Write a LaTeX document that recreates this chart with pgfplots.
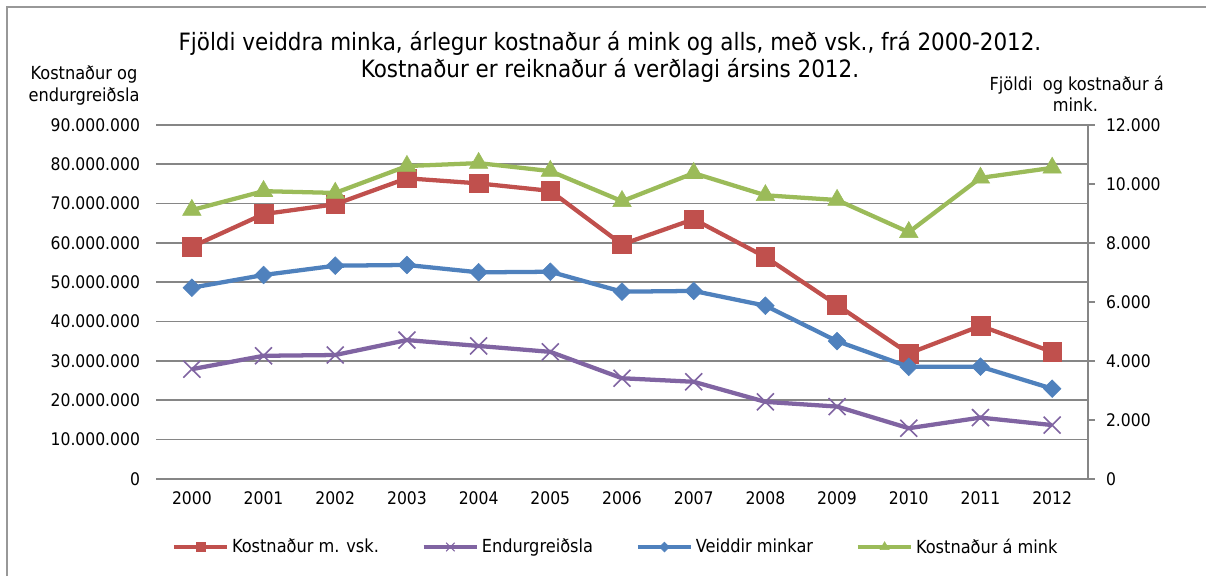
\documentclass[border=0pt]{standalone}
\usepackage{pgfplots}
\pgfplotsset{compat=1.18}
\usepackage{fontspec}
\setmainfont{DejaVu Sans Condensed}

\definecolor{cred}{RGB}{192,80,77}
\definecolor{cpur}{RGB}{128,100,162}
\definecolor{cblue}{RGB}{79,129,189}
\definecolor{cgreen}{RGB}{155,187,89}
\definecolor{cgrid}{RGB}{134,134,134}

\pgfplotsset{
  mybase/.style={
    scale only axis, width=699pt, height=265.7pt,
    at={(117pt,72.75pt)}, anchor=south west,
    xmin=-0.5, xmax=12.5,
    scaled y ticks=false,
    tick label style={font=\fontsize{13}{16}\selectfont},
    /pgf/number format/.cd, fixed, precision=0, 1000 sep={.}, assume math mode=true,
  },
  redS/.style={cred, line width=3.2pt, mark=square*, mark options={line width=0.4pt, solid}},
  purS/.style={cpur, line width=3.2pt, mark=x, mark options={line width=1.2pt, solid}},
  bluS/.style={cblue, line width=3.2pt, mark=square*, mark options={rotate=45, line width=0.4pt, solid}},
  grnS/.style={cgreen, line width=3.2pt, mark=triangle*, mark options={line width=0.4pt, solid}},
}

\begin{document}
\begin{tikzpicture}
\useasboundingbox (0pt,0pt) rectangle (904.5pt,432pt);
\fill[white] (0pt,0pt) rectangle (904.5pt,432pt);
\draw[cgrid!85, line width=1.5pt] (5.25pt,0pt) -- (5.25pt,426.75pt) -- (904.5pt,426.75pt);

\begin{axis}[mybase,
  ymin=0, ymax=90000000, ytick={0,10000000,...,90000000},
  axis lines*=left,
  y axis line style={draw=none},
  x axis line style={cgrid, line width=1.2pt},
  xtick={0,...,12},
  xticklabels={2000,2001,2002,2003,2004,2005,2006,2007,2008,2009,2010,2011,2012},
  xtick style={draw=none}, ytick style={draw=none},
  ymajorgrids, grid style={cgrid, line width=1.2pt},
  yticklabel style={xshift=-8.5pt},
  xticklabel style={yshift=-6pt},
]
\addplot[redS, mark size=7pt] coordinates {
(0,59000000) (1,67300000) (2,69800000) (3,76400000) (4,75100000) (5,73200000)
(6,59600000) (7,66000000) (8,56400000) (9,44200000) (10,31900000) (11,38900000) (12,32300000)};
\addplot[purS, mark size=9pt] coordinates {
(0,27900000) (1,31300000) (2,31500000) (3,35300000) (4,33800000) (5,32300000)
(6,25600000) (7,24700000) (8,19600000) (9,18400000) (10,12900000) (11,15600000) (12,13700000)};
\end{axis}

\begin{axis}[mybase,
  ymin=0, ymax=12000, ytick={0,2000,...,12000},
  axis x line=none, axis y line*=right,
  y axis line style={cgrid, line width=1.2pt},
  ytick style={cgrid, line width=1.2pt},
  tick align=outside, major tick length=5pt,
  yticklabel style={xshift=5pt},
  legend columns=4,
  legend style={at={(0.4936,-0.192)}, anchor=center, draw=none, fill=none,
    font=\fontsize{13.5}{16}\selectfont,
    /tikz/every even column/.append style={column sep=30pt}},
  legend image code/.code={\draw[mark repeat=2,mark phase=2] plot coordinates {(0pt,0pt)(20pt,0pt)(40pt,0pt)};},
]
\addplot[bluS, mark size=4.7pt, forget plot] coordinates {
(0,6480) (1,6910) (2,7225) (3,7250) (4,7000) (5,7020)
(6,6345) (7,6370) (8,5870) (9,4670) (10,3800) (11,3805) (12,3060)};
\addplot[grnS, mark size=8pt, forget plot] coordinates {
(0,9110) (1,9750) (2,9690) (3,10600) (4,10700) (5,10430)
(6,9410) (7,10360) (8,9610) (9,9450) (10,8360) (11,10200) (12,10540)};
\addlegendimage{redS, mark size=3.3pt}
\addlegendentry{Kostnaður m. vsk.}
\addlegendimage{purS, mark size=4.5pt, mark options={line width=0.8pt}}
\addlegendentry{Endurgreiðsla}
\addlegendimage{bluS, mark size=2.6pt}
\addlegendentry{Veiddir minkar}
\addlegendimage{grnS, mark size=4pt}
\addlegendentry{Kostnaður á mink}
\end{axis}

\node[font=\fontsize{17.9}{21}\selectfont, anchor=base] at (457.5pt,394pt) {Fjöldi veiddra minka, árlegur kostnaður á mink og alls, með vsk., frá 2000-2012.};
\node[font=\fontsize{17.9}{21}\selectfont, anchor=base] at (457.5pt,374pt) {Kostnaður er reiknaður á verðlagi ársins 2012.};
\node[font=\fontsize{13.5}{16}\selectfont, anchor=base] at (63pt,372pt) {Kostnaður og};
\node[font=\fontsize{13.5}{16}\selectfont, anchor=base] at (63pt,356.2pt) {endurgreiðsla};
\node[font=\fontsize{13.5}{16}\selectfont, anchor=base] at (807.5pt,364pt) {Fjöldi\ \ og kostnaður á};
\node[font=\fontsize{13.5}{16}\selectfont, anchor=base] at (806.6pt,348.2pt) {mink.};
\end{tikzpicture}
\end{document}
